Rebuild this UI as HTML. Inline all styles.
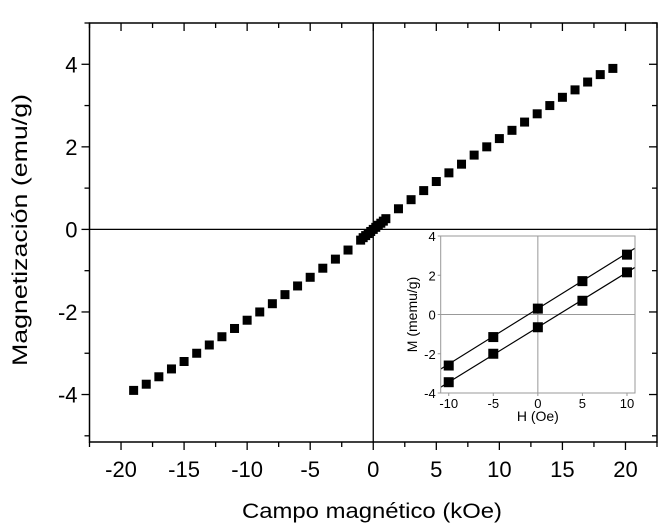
<!DOCTYPE html>
<html><head><meta charset="utf-8"><style>
body{margin:0;background:#fff;}
svg{display:block;font-family:"Liberation Sans",Arial,sans-serif;}
</style></head><body>
<svg id="c" width="669" height="529" xmlns="http://www.w3.org/2000/svg"></svg>
<script>
const fieldKOe=[-19,-18,-17,-16,-15,-14,-13,-12,-11,-10,-9,-8,-7,-6,-5,-4,-3,-2,-1,-0.8,-0.6,-0.4,-0.2,0,0.2,0.4,0.6,0.8,1,2,3,4,5,6,7,8,9,10,11,12,13,14,15,16,17,18,19];
const magnet=[-3.9,-3.75,-3.57,-3.38,-3.2,-3.0,-2.8,-2.6,-2.4,-2.2,-2.0,-1.8,-1.58,-1.37,-1.16,-0.94,-0.72,-0.5,-0.26,-0.2,-0.15,-0.1,-0.05,0,0.05,0.1,0.15,0.2,0.26,0.5,0.72,0.94,1.16,1.37,1.58,1.8,2.0,2.2,2.4,2.6,2.8,3.0,3.2,3.38,3.57,3.75,3.9];
const xTicks=[-20,-15,-10,-5,0,5,10,15,20];
const yTicks=[-4,-2,0,2,4];
const insetH=[-10,-5,0,5,10];
const insetUpper=[-2.6,-1.15,0.3,1.7,3.05];
const insetLower=[-3.45,-2.0,-0.65,0.7,2.15];
const insetXTicks=[-10,-5,0,5,10];
const insetYTicks=[-4,-2,0,2,4];

const svg=document.getElementById('c');
const NS='http://www.w3.org/2000/svg';
function mk(t,a,p){const e=document.createElementNS(NS,t);for(const k in a)e.setAttribute(k,a[k]);(p||svg).appendChild(e);return e;}
const L=89.5,R=657,T=23,B=442;
const xmin=-22.5,xmax=22.5,ymin=-5.15,ymax=5;
const X=v=>L+(v-xmin)/(xmax-xmin)*(R-L);
const Y=v=>T+(ymax-v)/(ymax-ymin)*(B-T);
const g=mk('g',{});


mk('rect',{x:L,y:T,width:R-L,height:B-T,fill:'none',stroke:'#000','stroke-width':1.5},g);
mk('line',{x1:X(0),x2:X(0),y1:T,y2:B,stroke:'#000','stroke-width':1.3},g);
mk('line',{x1:L,x2:R,y1:Y(0),y2:Y(0),stroke:'#000','stroke-width':1.3},g);
for(let v=-22.5;v<=22.5;v+=2.5){const maj=Math.abs(v%5)<1e-6;const len=maj?8:5;
 mk('line',{x1:X(v),x2:X(v),y1:B,y2:B+len,stroke:'#000','stroke-width':1.3},g);
 mk('line',{x1:X(v),x2:X(v),y1:T,y2:T+len,stroke:'#000','stroke-width':1.3},g);}
for(let v=-5;v<=5;v+=1){const maj=v%2===0;const len=maj?8:5;
 mk('line',{x1:L-len,x2:L,y1:Y(v),y2:Y(v),stroke:'#000','stroke-width':1.3},g);
 mk('line',{x1:R-len,x2:R,y1:Y(v),y2:Y(v),stroke:'#000','stroke-width':1.3},g);}
xTicks.forEach(v=>{const t=mk('text',{x:X(v),y:477,'font-size':22,'text-anchor':'middle'},g);t.textContent=v;
 });
yTicks.forEach(v=>{const t=mk('text',{x:L-12,y:Y(v)+8,'font-size':22,'text-anchor':'end'},g);t.textContent=v;
 });
const xt=mk('text',{x:372,y:518,'font-size':21,'text-anchor':'middle',textLength:260,lengthAdjust:'spacingAndGlyphs'});xt.textContent='Campo magnético (kOe)';

const yt=mk('text',{x:0,y:0,'font-size':21,'text-anchor':'middle',textLength:272,lengthAdjust:'spacingAndGlyphs',transform:'translate(27,230) rotate(-90)'});yt.textContent='Magnetización (emu/g)';

fieldKOe.forEach((h,i)=>{const r=mk('rect',{x:X(h)-4.5,y:Y(magnet[i])-4.5,width:9,height:9,fill:'#000'},g);
 });
const il=440.7,ir=635,itp=236,ib=393;
const IX=v=>il+(v+10.9)/21.8*(ir-il);
const IY=v=>itp+(4-v)/8*(ib-itp);
const ig=mk('g',{});


mk('rect',{x:il-28,y:itp-6,width:ir-il+34,height:ib-itp+46,fill:'#fff'},ig);
const cp=mk('clipPath',{id:'ic'},ig);mk('rect',{x:il,y:itp,width:ir-il,height:ib-itp},cp);
mk('line',{x1:IX(0),x2:IX(0),y1:itp,y2:ib,stroke:'#999','stroke-width':1},ig);
mk('line',{x1:il,x2:ir,y1:IY(0),y2:IY(0),stroke:'#999','stroke-width':1},ig);
[insetUpper,insetLower].forEach(s=>{const n=s.length;const sl=(s[n-1]-s[0])/(insetH[n-1]-insetH[0]);const b=s[2]-sl*insetH[2];
 mk('line',{x1:IX(-12),y1:IY(b-12*sl),x2:IX(12),y2:IY(b+12*sl),stroke:'#000','stroke-width':1.2,'clip-path':'url(#ic)'},ig);});
[insetUpper,insetLower].forEach(s=>insetH.forEach((h,i)=>{const r=mk('rect',{x:IX(h)-5,y:IY(s[i])-5,width:10,height:10,fill:'#000'},ig);
 }));
mk('rect',{x:il,y:itp,width:ir-il,height:ib-itp,fill:'none',stroke:'#999','stroke-width':1},ig);
insetXTicks.forEach(v=>{mk('line',{x1:IX(v),x2:IX(v),y1:ib,y2:ib+3,stroke:'#999'},ig);
 const t=mk('text',{x:IX(v),y:ib+15,'font-size':13,'text-anchor':'middle'},ig);t.textContent=v;
 });
insetYTicks.forEach(v=>{mk('line',{x1:il-3,x2:il,y1:IY(v),y2:IY(v),stroke:'#999'},ig);
 const t=mk('text',{x:il-5,y:IY(v)+5,'font-size':13,'text-anchor':'end'},ig);t.textContent=v;
 });
const ixt=mk('text',{x:IX(0),y:ib+28,'font-size':14,'text-anchor':'middle'},ig);ixt.textContent='H (Oe)';

const iyt=mk('text',{x:0,y:0,'font-size':14,'text-anchor':'middle',transform:`translate(417,${IY(0)}) rotate(-90)`},ig);iyt.textContent='M (memu/g)';

</script>
</body></html>
